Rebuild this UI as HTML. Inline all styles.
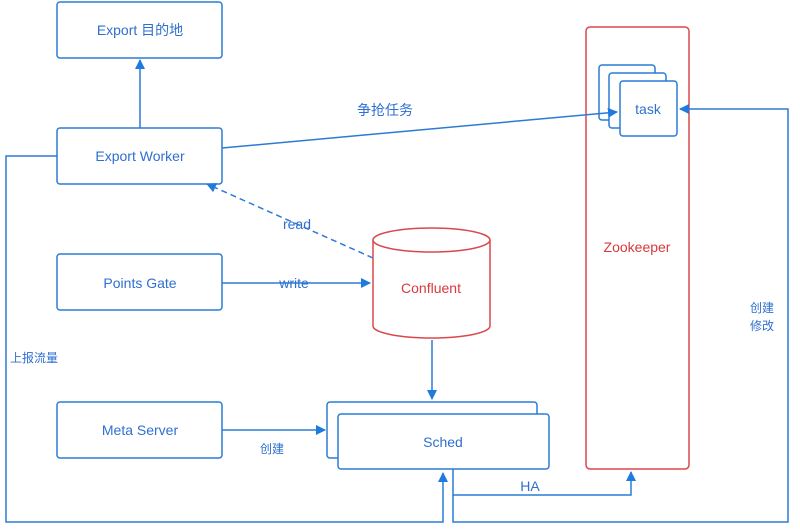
<!DOCTYPE html>
<html><head><meta charset="utf-8"><style>
html,body{margin:0;padding:0;background:#fff;}
svg text{font-family:"Liberation Sans","Noto Sans CJK SC",sans-serif;font-size:14px;fill:#2f6fd0;}
</style></head><body>
<svg width="800" height="525" viewBox="0 0 800 525" xmlns="http://www.w3.org/2000/svg">
<defs>
<marker id="a" markerWidth="10" markerHeight="10" refX="9" refY="5" orient="auto" markerUnits="userSpaceOnUse">
<path d="M0,0 L10,5 L0,10 z" fill="#1f7ae0"/></marker>
</defs>
<g fill="#fff" stroke="#2b7bd6" stroke-width="1.5">
<rect x="57" y="2" width="165" height="56" rx="3"/>
<rect x="57" y="128" width="165" height="56" rx="3"/>
<rect x="57" y="254" width="165" height="56" rx="3"/>
<rect x="57" y="402" width="165" height="56" rx="3"/>
<rect x="327" y="402" width="210" height="56" rx="3"/>
<rect x="338" y="414" width="211" height="55" rx="3"/>
</g>
<rect x="586" y="27" width="103" height="442" rx="4" fill="none" stroke="#d9484d" stroke-width="1.5"/>
<g fill="#fff" stroke="#2b7bd6" stroke-width="1.5">
<rect x="599" y="65" width="56" height="55" rx="3"/>
<rect x="609" y="73" width="57" height="55" rx="3"/>
<rect x="620" y="81" width="57" height="55" rx="3"/>
</g>
<g fill="#fff" stroke="#d9484d" stroke-width="1.5">
<path d="M373,240 L373,326 A58.5,12 0 0 0 490,326 L490,240"/>
<ellipse cx="431.5" cy="240" rx="58.5" ry="12"/>
</g>
<g fill="none" stroke="#2b7bd6" stroke-width="1.5">
<line x1="140" y1="128" x2="140" y2="60" marker-end="url(#a)"/>
<polyline points="57,156 6,156 6,522 443,522 443,473" marker-end="url(#a)"/>
<line x1="222" y1="283" x2="370" y2="283" marker-end="url(#a)"/>
<line x1="373" y1="258" x2="207" y2="184" stroke-dasharray="6,4" marker-end="url(#a)"/>
<line x1="432" y1="340" x2="432" y2="399" marker-end="url(#a)"/>
<line x1="222" y1="430" x2="325" y2="430" marker-end="url(#a)"/>
<polyline points="453,469 453,495 631,495 631,472" marker-end="url(#a)"/>
<polyline points="453,495 453,522 788,522 788,109 680,109" marker-end="url(#a)"/>
<line x1="222" y1="148" x2="617" y2="112" marker-end="url(#a)"/>
</g>
<text x="140" y="35" text-anchor="middle">Export 目的地</text>
<text x="140" y="161" text-anchor="middle">Export Worker</text>
<text x="140" y="288" text-anchor="middle">Points Gate</text>
<text x="140" y="435" text-anchor="middle">Meta Server</text>
<text x="443" y="447" text-anchor="middle">Sched</text>
<text x="648" y="114" text-anchor="middle">task</text>
<text x="637" y="252" text-anchor="middle" style="fill:#d9383d">Zookeeper</text>
<text x="431" y="293" text-anchor="middle" style="fill:#d9383d">Confluent</text>
<text x="294" y="288" text-anchor="middle">write</text>
<text x="297" y="229" text-anchor="middle">read</text>
<text x="385" y="115" text-anchor="middle">争抢任务</text>
<text x="10" y="362" style="font-size:12px">上报流量</text>
<text x="272" y="453" text-anchor="middle" style="font-size:12px">创建</text>
<text x="530" y="491" text-anchor="middle">HA</text>
<text x="750" y="312" style="font-size:12px">创建</text>
<text x="750" y="330" style="font-size:12px">修改</text>
</svg>
</body></html>
